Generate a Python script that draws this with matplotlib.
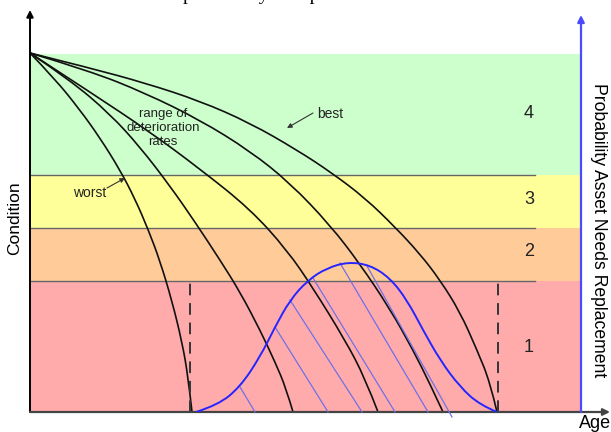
import numpy as np
import matplotlib
matplotlib.use("Agg")
import matplotlib.pyplot as plt
from matplotlib.path import Path
from matplotlib.patches import PathPatch

# chart units: age 0..580, condition 0..402
band_names = ["1", "2", "3", "4"]
band_lo = [0, 131, 184, 237]
band_hi = [131, 184, 237, 358]
band_colors = ["#ffabab", "#ffcc99", "#ffff99", "#ccffcc"]
band_label_cond = [64, 160, 213, 299]
age_max = 551

# deterioration curves, worst -> best
curve_ages = [
    [0, 25, 50, 70, 90, 105, 118, 130, 142, 152, 158, 162],
    [0, 40, 80, 110, 140, 165, 190, 210, 230, 245, 256, 263],
    [0, 60, 120, 170, 220, 257, 283, 315, 335, 348],
    [0, 60, 115, 170, 220, 260, 300, 330, 360, 383, 400, 413],
    [0, 60, 115, 170, 220, 267, 302, 335, 365, 390, 410, 430, 447, 460, 467],
]
curve_cond = [
    [359, 333, 302, 274, 242, 213, 183, 151, 111, 70, 36, 0],
    [359, 332, 298, 265, 226, 190, 152, 120, 82, 50, 24, 0],
    [359, 320, 280, 243, 203, 162, 124, 72, 34, 0],
    [359, 341, 319, 292, 261, 229, 187, 148, 103, 62, 28, 0],
    [359, 344, 329, 311, 289, 262, 239, 214, 185, 158, 132, 100, 62, 30, 0],
]

# probability of replacement (blue bell)
prob_age = [166, 188, 210, 230, 245, 260, 278, 297, 318, 340, 360, 377, 393, 410, 430, 450, 467]
prob_val = [0, 7, 25, 55, 85, 112, 132, 144, 150, 147, 134, 112, 82, 52, 25, 7, 0]

# hatch strokes under the bell
hatch_top_age = [210, 245, 260, 283, 310, 337]
hatch_top_val = [25, 85, 112, 134, 149, 146]
hatch_bot_age = [225, 298, 332, 365, 398, 422]
hatch_bot_val = [0, 0, 0, 0, 0, -5]

# replacement window
window_ages = [160, 468]


def smooth_line(ax, xs, ys, **kw):
    # quadratic bezier chain through the read points
    pts = list(zip(xs, ys))
    verts = [pts[0]]
    codes = [Path.MOVETO]
    for i in range(1, len(pts) - 1):
        end = pts[i + 1] if i == len(pts) - 2 else (
            (pts[i][0] + pts[i + 1][0]) / 2, (pts[i][1] + pts[i + 1][1]) / 2)
        verts += [pts[i], end]
        codes += [Path.CURVE3, Path.CURVE3]
    ax.add_patch(PathPatch(Path(verts, codes), fill=False, **kw))


fig = plt.figure(figsize=(6.11, 4.32), dpi=100)
ax = fig.add_axes([30 / 611, 20 / 432, 580 / 611, 402 / 432])
ax.set_xlim(0, 580)
ax.set_ylim(0, 402)
ax.axis("off")

for lo, hi, c in zip(band_lo, band_hi, band_colors):
    ax.fill_between([0, age_max], lo, hi, color=c, lw=0, zorder=0)
for hi in band_hi[:3]:
    ax.plot([0, 505], [hi, hi], color="#666666", lw=1, zorder=1)
for name, y in zip(band_names, band_label_cond):
    ax.text(499, y, name, ha="center", va="center", fontsize=13, color="#222222",
            family="Liberation Sans")

for a, c in zip(curve_ages, curve_cond):
    smooth_line(ax, a, c, edgecolor="#111111", lw=1.2, zorder=3)

for x in window_ages:
    ax.plot([x, x], [0, band_hi[0]], color="#333333", lw=1.4, dashes=(6, 4), zorder=3)

for x0, y0, x1, y1 in zip(hatch_top_age, hatch_top_val, hatch_bot_age, hatch_bot_val):
    ax.plot([x0, x1], [y0, y1], color="#7070e6", lw=0.9, zorder=4, clip_on=False)
smooth_line(ax, prob_age, prob_val, edgecolor="#2525ff", lw=1.4, zorder=5)

# axes with arrows
ax.annotate("", xy=(0, 402), xytext=(0, 0), annotation_clip=False,
            arrowprops=dict(arrowstyle="-|>", color="black", lw=1.4, mutation_scale=10,
                            shrinkA=0, shrinkB=0))
ax.annotate("", xy=(580, 0), xytext=(0, 0), annotation_clip=False,
            arrowprops=dict(arrowstyle="-|>", color="#444444", lw=1.6, mutation_scale=10,
                            shrinkA=0, shrinkB=0))
ax.annotate("", xy=(age_max, 397), xytext=(age_max, 0), annotation_clip=False,
            arrowprops=dict(arrowstyle="-|>", color="#4a4aff", lw=1.6, mutation_scale=10,
                            shrinkA=0, shrinkB=0))

ax.text(-15, 194, "Condition", rotation=90, ha="center", va="center", fontsize=12.5,
        family="Liberation Sans", clip_on=False)
ax.text(568, 182, "Probability Asset Needs Replacement", rotation=270, ha="center",
        va="center", fontsize=12.7, family="Liberation Sans", clip_on=False)
ax.text(565, -12, "Age", ha="center", va="center", fontsize=13, family="Liberation Sans",
        clip_on=False)

small = dict(family="Liberation Sans", color="#222222")
ax.text(133, 284, "range of\ndeterioration\nrates", ha="center", va="center",
        linespacing=1.2, fontsize=9.5, **small)
ax.text(60, 219, "worst", ha="center", va="center", fontsize=10, **small)
ax.annotate("", xy=(95, 234), xytext=(77, 224),
            arrowprops=dict(arrowstyle="-|>", color="#333333", lw=0.8, mutation_scale=7,
                            shrinkA=0, shrinkB=0))
ax.text(300, 298, "best", ha="center", va="center", fontsize=10, **small)
ax.annotate("", xy=(257, 284), xytext=(283, 299),
            arrowprops=dict(arrowstyle="-|>", color="#333333", lw=0.8, mutation_scale=7,
                            shrinkA=0, shrinkB=0))

# caption line cut off at the top of the picture, as in the source
fig.text(25 / 611, 431.5 / 432, "which increases the probability of replacement at",
         family="Liberation Serif", fontsize=14, va="baseline")

fig.savefig("out.png", dpi=100)
